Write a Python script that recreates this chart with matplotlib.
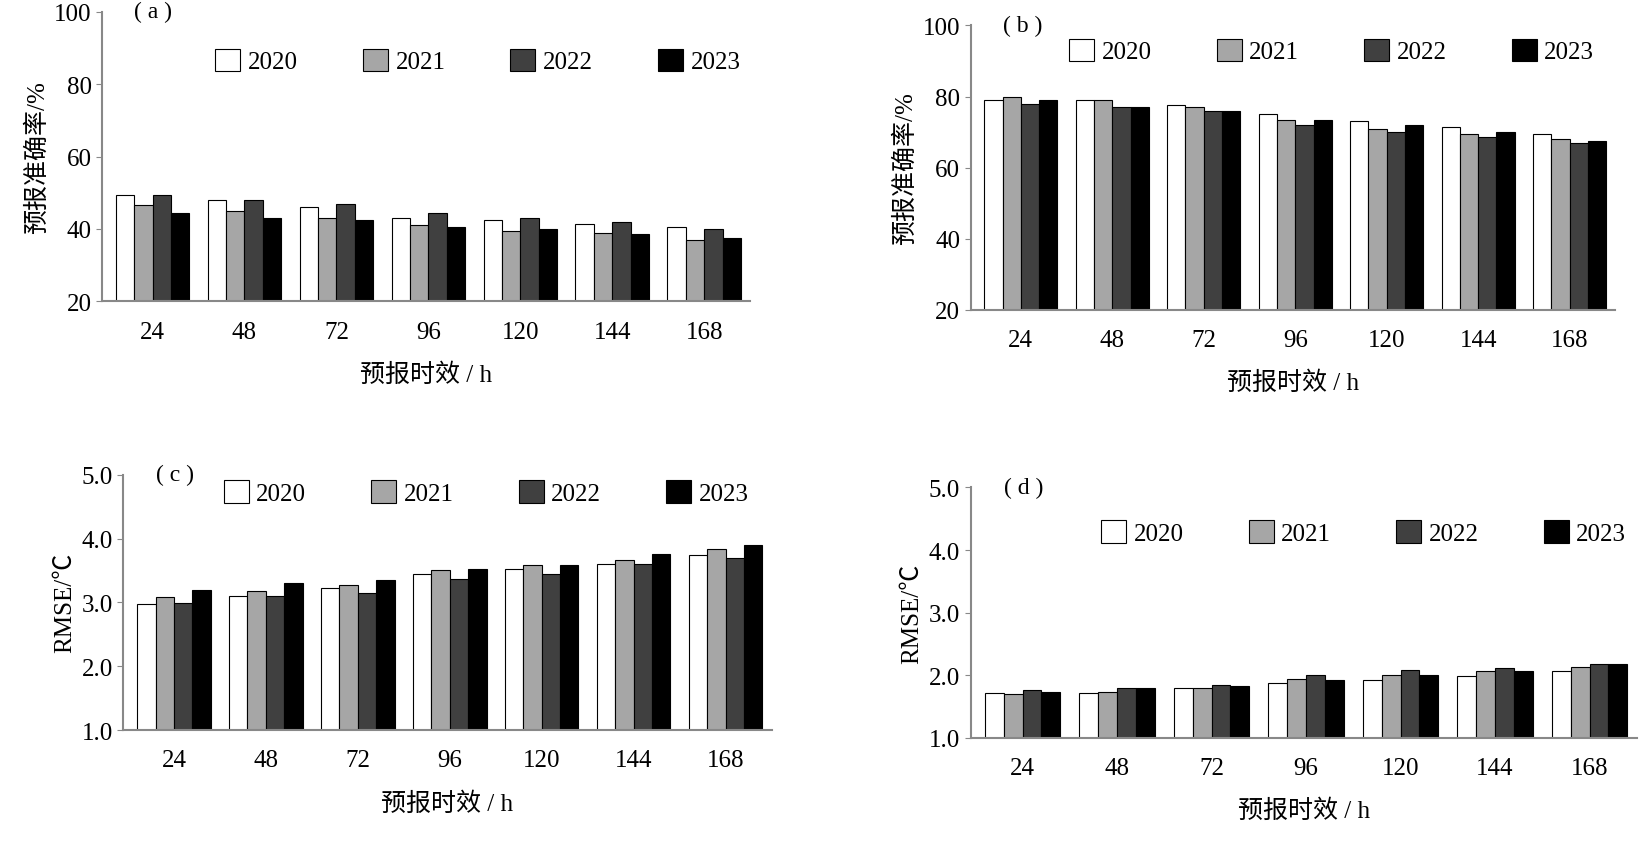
import numpy as np
import matplotlib.pyplot as plt

plt.rcParams['font.family'] = ['Liberation Serif', 'Noto Sans CJK SC', 'DejaVu Sans']

hours = ['24', '48', '72', '96', '120', '144', '168']
years = ['2020', '2021', '2022', '2023']
colours = ['white', '#a6a6a6', '#404040', 'black']

acc_a = np.array([
    [49.5, 48, 46, 43, 42.5, 41.5, 40.5],
    [46.5, 45, 43, 41, 39.5, 39, 37],
    [49.5, 48, 47, 44.5, 43, 42, 40],
    [44.5, 43, 42.5, 40.5, 40, 38.5, 37.5],
])
acc_b = np.array([
    [79, 79, 77.5, 75, 73, 71.5, 69.5],
    [80, 79, 77, 73.5, 71, 69.5, 68],
    [78, 77, 76, 72, 70, 68.5, 67],
    [79, 77, 76, 73.5, 72, 70, 67.5],
])
rmse_c = np.array([
    [2.97, 3.10, 3.23, 3.45, 3.52, 3.60, 3.74],
    [3.08, 3.18, 3.27, 3.50, 3.59, 3.66, 3.83],
    [2.99, 3.10, 3.15, 3.37, 3.45, 3.60, 3.70],
    [3.20, 3.30, 3.35, 3.52, 3.59, 3.76, 3.90],
])
rmse_d = np.array([
    [1.72, 1.72, 1.79, 1.87, 1.93, 1.99, 2.07],
    [1.70, 1.73, 1.79, 1.94, 2.01, 2.06, 2.13],
    [1.77, 1.80, 1.85, 2.01, 2.08, 2.11, 2.18],
    [1.73, 1.79, 1.83, 1.93, 2.00, 2.07, 2.18],
])


# Draw one grouped bar panel
def draw_panel(ax, values, tag, ylabel, ylim, yticks, fmt, legend_xy):
    x = np.arange(len(hours))
    width = 0.2
    for i, year in enumerate(years):
        ax.bar(x + (i - 1.5) * width, values[i] - ylim[0], width, bottom=ylim[0],
               color=colours[i], edgecolor='black', linewidth=0.8, label=year)
    ax.set_xlim(-0.55, len(hours) - 0.5)
    ax.set_ylim(*ylim)
    ax.set_yticks(yticks)
    ax.set_yticklabels([fmt.format(v) for v in yticks])
    ax.set_xticks(x)
    ax.set_xticklabels(hours)
    ax.tick_params(axis='x', length=0, pad=14)
    ax.tick_params(axis='y', direction='out', length=4, color='#888888')
    ax.tick_params(labelsize=18)
    for side in ['top', 'right']:
        ax.spines[side].set_visible(False)
    for side in ['left', 'bottom']:
        ax.spines[side].set_color('#888888')
        ax.spines[side].set_linewidth(1.5)
    ax.set_ylabel(ylabel, fontsize=18)
    ax.set_xlabel('预报时效 / h', fontsize=18, labelpad=14)
    ax.text(0.05, 1.0, '( ' + tag + ' )', transform=ax.transAxes, fontsize=17, va='center')
    ax.legend(loc='center', bbox_to_anchor=legend_xy, ncol=4,
              frameon=False, fontsize=18, handlelength=1.0, handleheight=1.0,
              columnspacing=2.6, handletextpad=0.3)


def show_chart():
    fig = plt.figure(figsize=(16.45, 8.54), dpi=100)
    ax_a = fig.add_axes([0.062, 0.646, 0.394, 0.339])
    ax_b = fig.add_axes([0.590, 0.636, 0.392, 0.333])
    ax_c = fig.add_axes([0.075, 0.144, 0.394, 0.299])
    ax_d = fig.add_axes([0.590, 0.135, 0.405, 0.293])
    draw_panel(ax_a, acc_a, 'a', '预报准确率/%', (20, 100), [20, 40, 60, 80, 100], '{:.0f}', (0.58, 0.83))
    draw_panel(ax_b, acc_b, 'b', '预报准确率/%', (20, 100), [20, 40, 60, 80, 100], '{:.0f}', (0.56, 0.91))
    draw_panel(ax_c, rmse_c, 'c', 'RMSE/℃', (1.0, 5.0), [1.0, 2.0, 3.0, 4.0, 5.0], '{:.1f}', (0.56, 0.93))
    draw_panel(ax_d, rmse_d, 'd', 'RMSE/℃', (1.0, 5.0), [1.0, 2.0, 3.0, 4.0, 5.0], '{:.1f}', (0.59, 0.82))
    fig.savefig('out.png')


show_chart()
